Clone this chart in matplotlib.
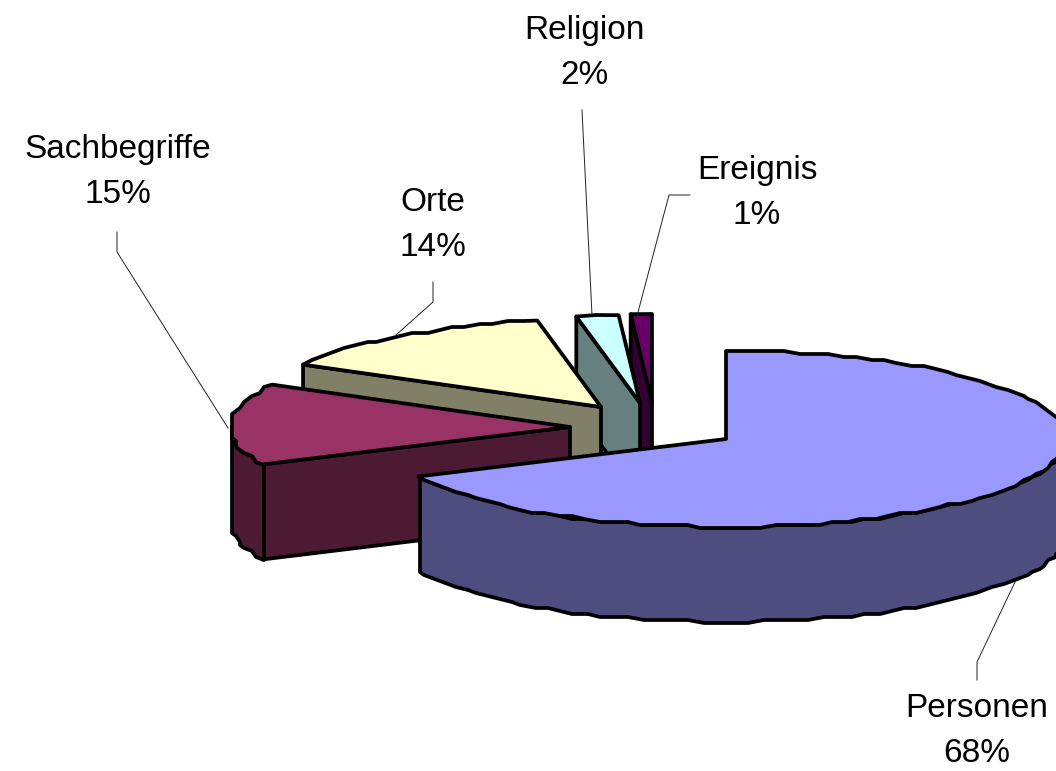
import numpy as np
import matplotlib
matplotlib.use("Agg")
import matplotlib.pyplot as plt
from matplotlib.patches import Polygon

categories = ["Personen", "Sachbegriffe", "Orte", "Religion", "Ereignis"]
shares = [68, 15, 14, 2, 1]
top_colors = ["#9999FF", "#993366", "#FFFFCC", "#CCFFFF", "#660066"]
side_colors = ["#4D4D80", "#4D1A33", "#808066", "#668080", "#330033"]

# where each exploded slice has its tip, and the label/leader layout (pixels)
tips = [(726, 439), (570, 427), (601, 407), (640, 403), (652, 402)]
label_pos = [(977, 731), (118, 172), (433, 225), (584, 53), (757, 193)]
leaders = [
    [(977, 680), (977, 662), (1015, 582)],
    [(117, 232), (117, 252), (228, 428)],
    [(433, 282), (433, 302), (396, 335)],
    [(582, 110), (592, 315)],
    [(690, 195), (669, 195), (637, 316)],
]

RX, RY = 340, 88
DEPTH = 95
EDGE = 2.7


def arc(tip, a0, a1):
    # angles clockwise from 12 o'clock, snapped to a grid for the stepped old office look
    n = max(int(abs(a1 - a0) / 2.5), 1)
    t = np.radians(np.linspace(a0, a1, n + 1))
    x = tip[0] + RX * np.sin(t)
    y = tip[1] - RY * np.cos(t)
    return np.column_stack([np.round(x / 4) * 4, np.round(y / 3) * 3])


def add_poly(ax, pts, color):
    ax.add_patch(Polygon(pts, closed=True, facecolor=color, edgecolor="black",
                         linewidth=EDGE, joinstyle="round"))


fig = plt.figure(figsize=(10.56, 7.71), dpi=100)
ax = fig.add_axes([0, 0, 1, 1])
ax.set_xlim(0, 1056)
ax.set_ylim(771, 0)
ax.axis("off")

angles = np.cumsum([0] + shares) * 3.6
# back slices first, Personen goes on top of everything
for i in range(len(shares) - 1, -1, -1):
    a0, a1 = angles[i], angles[i + 1]
    tip = tips[i]
    edge = arc(tip, a0, a1)
    edge[0] = tip[0] + RX * np.sin(np.radians(a0)), tip[1] - RY * np.cos(np.radians(a0))
    edge[-1] = tip[0] + RX * np.sin(np.radians(a1)), tip[1] - RY * np.cos(np.radians(a1))

    if a0 > 180:  # cut face turned towards the viewer
        p = edge[0]
        add_poly(ax, [tip, p, (p[0], p[1] + DEPTH), (tip[0], tip[1] + DEPTH)], side_colors[i])

    lo, hi = max(a0, 90), min(a1, 270)
    if lo < hi:  # outer rim
        rim = arc(tip, lo, hi)
        lower = rim + [0, DEPTH]
        add_poly(ax, np.vstack([rim, lower[::-1]]), side_colors[i])

    add_poly(ax, np.vstack([[tip], edge]), top_colors[i])

for pts in leaders:
    xs, ys = zip(*pts)
    ax.plot(xs, ys, color="#222222", linewidth=0.7, solid_joinstyle="miter")

for name, share, pos in zip(categories, shares, label_pos):
    ax.text(pos[0], pos[1], f"{name}\n{share}%", ha="center", va="center",
            fontsize=24, family="Liberation Sans", linespacing=1.58, color="black")

fig.savefig("out.png", dpi=100)
